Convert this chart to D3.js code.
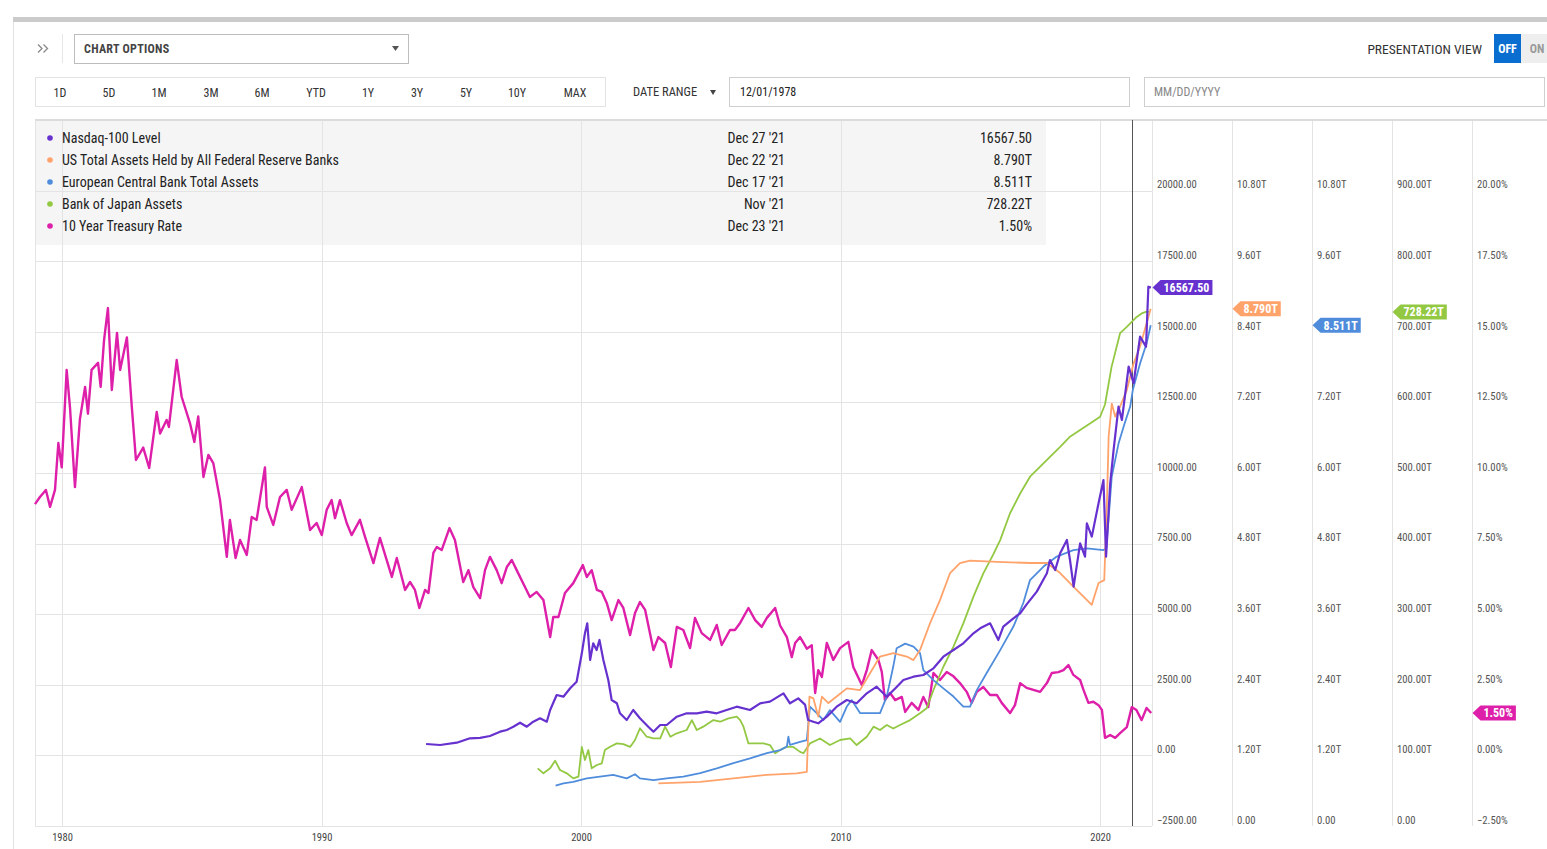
<!DOCTYPE html>
<html>
<head>
<meta charset="utf-8">
<script src="https://cdnjs.cloudflare.com/ajax/libs/d3/7.8.5/d3.min.js"></script>
<style>
  body { margin: 0; background: #fff; }
  svg text { font-family: 'Roboto Condensed', 'Liberation Sans Narrow', 'DejaVu Sans Condensed', Roboto, sans-serif; }
</style>
</head>
<body>
<svg id="chart"></svg>
<script>
// ---- data (decimal year, value) ----
var nasdaq = [
  [1994.03,404],[1994.57,368],[1995.21,450],[1995.72,606],[1996.11,620],[1996.49,687],[1996.88,840],
  [1997.14,900],[1997.39,1016],[1997.65,1158],[1997.91,1016],[1998.16,1193],[1998.42,1314],[1998.68,1193],
  [1998.81,1608],[1999.06,2139],[1999.32,2079],[1999.58,2376],[1999.83,2610],[2000.03,3615],[2000.15,4324],
  [2000.24,4678],[2000.35,3378],[2000.47,3970],[2000.6,3732],[2000.71,4087],[2000.86,3378],[2001.05,2670],
  [2001.18,1962],[2001.38,1845],[2001.5,1490],[2001.76,1254],[2002.01,1608],[2002.27,1314],[2002.59,1016],
  [2002.79,840],[2003.05,1076],[2003.3,1076],[2003.69,1370],[2004.07,1490],[2004.46,1490],[2004.84,1548],
  [2005.23,1490],[2005.61,1608],[2006.0,1725],[2006.51,1608],[2006.9,1845],[2007.28,1902],[2007.8,2198],
  [2008.05,1845],[2008.37,2021],[2008.63,1800],[2008.75,1254],[2008.95,1193],[2009.14,1136],[2009.47,1370],
  [2009.85,1725],[2010.24,1962],[2010.62,1845],[2011.01,2198],[2011.39,2433],[2011.78,2079],[2012.17,2433],
  [2012.42,2670],[2012.81,2787],[2013.19,2847],[2013.58,3084],[2013.96,3495],[2014.35,3732],[2014.73,3970],
  [2015.12,4324],[2015.38,4500],[2015.76,4678],[2016.08,4087],[2016.27,4558],[2016.66,4855],[2016.92,5032],
  [2017.17,5350],[2017.56,5800],[2017.95,6447],[2018.07,6919],[2018.27,6565],[2018.46,7157],[2018.72,7628],
  [2018.84,6919],[2018.98,5974],[2019.23,7511],[2019.42,7037],[2019.49,8219],[2019.68,7747],[2019.94,8927],
  [2020.13,9752],[2020.23,7037],[2020.39,9633],[2020.52,10814],[2020.71,12348],[2020.84,11877],[2021.1,13765],
  [2021.29,13176],[2021.54,14827],[2021.77,14473],[2021.86,16597],[2021.96,16567.5]
];

var fedAssets = [
  [2002.98,0.726],[2004.59,0.75],[2005.87,0.81],[2007.16,0.87],[2008.31,0.896],[2008.7,0.92],[2008.8,2.2],
  [2008.95,2.17],[2009.14,1.86],[2009.28,2.2],[2009.53,2.09],[2009.85,2.2],[2010.24,2.34],[2010.75,2.31],
  [2011.14,2.6],[2011.52,2.88],[2012.03,2.94],[2012.55,2.88],[2012.81,2.82],[2013.06,2.99],[2013.45,3.45],
  [2013.83,3.84],[2014.22,4.3],[2014.6,4.47],[2014.99,4.51],[2016.02,4.49],[2017.3,4.47],[2017.95,4.47],
  [2018.46,4.3],[2018.97,4.07],[2019.68,3.76],[2019.94,4.13],[2020.16,4.18],[2020.26,5.43],[2020.33,6.62],
  [2020.45,7.18],[2020.58,6.96],[2020.77,7.13],[2021.03,7.41],[2021.29,7.86],[2021.54,8.15],[2021.79,8.54],
  [2021.95,8.79]
];

var ecbAssets = [
  [1999.02,0.685],[1999.32,0.726],[1999.7,0.75],[2000.22,0.81],[2000.73,0.84],[2001.24,0.87],[2001.76,0.81],
  [2002.08,0.88],[2002.27,0.81],[2002.79,0.78],[2003.3,0.81],[2003.94,0.84],[2004.59,0.9],[2005.23,0.98],
  [2005.87,1.07],[2006.51,1.15],[2007.16,1.24],[2007.67,1.29],[2007.93,1.35],[2007.99,1.52],[2008.05,1.38],
  [2008.44,1.43],[2008.7,1.46],[2008.82,2.03],[2009.08,1.92],[2009.34,1.8],[2009.59,1.97],[2009.98,1.77],
  [2010.24,2.03],[2010.43,2.14],[2010.75,1.92],[2011.14,1.92],[2011.52,1.92],[2011.78,2.2],[2012.03,2.71],
  [2012.16,3.02],[2012.49,3.1],[2012.81,3.05],[2013.06,2.94],[2013.19,2.65],[2013.58,2.48],[2013.96,2.34],
  [2014.35,2.2],[2014.73,2.03],[2014.99,2.03],[2015.25,2.31],[2015.63,2.6],[2016.15,2.99],[2016.66,3.39],
  [2017.04,3.79],[2017.3,4.18],[2017.82,4.41],[2018.33,4.58],[2018.97,4.69],[2019.49,4.72],[2020.13,4.69],
  [2020.24,4.72],[2020.45,5.94],[2020.71,6.5],[2020.95,6.85],[2021.16,7.13],[2021.26,7.41],[2021.54,7.86],
  [2021.79,8.2],[2021.95,8.511]
];

var bojAssets = [
  [1998.33,81.7],[1998.55,74.6],[1998.81,81.7],[1999.0,92.5],[1999.19,79.3],[1999.45,74.6],[1999.7,67.5],
  [1999.9,70],[2000.03,112],[2000.15,93.5],[2000.28,107.6],[2000.41,81.7],[2000.61,86.4],[2000.8,88.8],
  [2000.92,107.6],[2001.12,112.3],[2001.38,117],[2001.63,116],[2001.89,112],[2002.08,121.8],[2002.27,138.4],
  [2002.53,126.5],[2002.79,124.1],[2003.05,124],[2003.24,140.7],[2003.44,126.5],[2003.69,131.3],[2004.07,136],
  [2004.27,150],[2004.46,136],[2004.71,140.7],[2005.1,150],[2005.36,147.7],[2005.68,152.5],[2006.0,154.8],
  [2006.13,150],[2006.26,140.7],[2006.45,117],[2006.77,117],[2007.03,117],[2007.28,114.7],[2007.48,103],
  [2007.67,107.6],[2007.93,112],[2008.18,112],[2008.44,105],[2008.57,103],[2008.82,117],[2009.21,124],
  [2009.59,114.7],[2009.98,121.8],[2010.37,124],[2010.62,114.7],[2011.01,126.5],[2011.27,140.7],[2011.52,136],
  [2011.78,143],[2012.03,138],[2012.29,143],[2012.68,150],[2013.06,159.6],[2013.32,166.7],[2013.58,192.6],
  [2013.96,225.6],[2014.35,254],[2014.73,287],[2015.12,324.8],[2015.5,357.9],[2015.89,385],[2016.15,405],
  [2016.53,443],[2016.92,471],[2017.3,494.8],[2017.69,509],[2018.07,523],[2018.46,537],[2018.84,551.4],
  [2019.23,561],[2019.61,570],[2020.0,579.7],[2020.19,597],[2020.44,650],[2020.77,698],[2021.03,707],
  [2021.41,721],[2021.6,726],[2021.79,728.5],[2021.88,728.22]
];

var treasury10y = [
  [1978.96,8.9],[1979.15,9.15],[1979.38,9.4],[1979.54,8.8],[1979.73,9.4],[1979.86,11.06],[1979.99,10.2],
  [1980.18,13.65],[1980.31,12.3],[1980.5,9.5],[1980.69,11.9],[1980.89,13.05],[1981.0,12.1],[1981.14,13.65],
  [1981.39,13.9],[1981.49,13.05],[1981.62,14.7],[1981.77,15.84],[1981.92,12.94],[1982.12,14.96],[1982.24,13.65],
  [1982.5,14.8],[1982.69,12.34],[1982.85,10.46],[1983.13,10.9],[1983.36,10.18],[1983.65,12.16],[1983.78,11.4],
  [1984.03,11.88],[1984.12,11.63],[1984.42,14.0],[1984.61,12.7],[1984.93,11.77],[1985.1,11.1],[1985.25,12.0],
  [1985.45,9.86],[1985.64,10.64],[1985.83,10.35],[1986.09,9.04],[1986.35,7.03],[1986.47,8.34],[1986.69,6.99],
  [1986.86,7.63],[1987.12,7.1],[1987.31,8.44],[1987.5,8.34],[1987.82,10.2],[1987.89,8.8],[1988.14,8.16],
  [1988.4,9.15],[1988.66,9.4],[1988.85,8.7],[1989.24,9.5],[1989.56,7.98],[1989.81,8.23],[1990.01,7.8],
  [1990.2,8.7],[1990.39,9.04],[1990.52,8.4],[1990.71,9.04],[1990.97,8.23],[1991.16,7.8],[1991.48,8.34],
  [1991.68,7.73],[1992.0,6.81],[1992.25,7.7],[1992.71,6.32],[1992.9,6.99],[1993.22,5.86],[1993.41,6.14],
  [1993.6,5.86],[1993.77,5.22],[1993.99,5.86],[1994.12,5.75],[1994.31,7.17],[1994.44,7.38],[1994.63,7.27],
  [1994.93,8.05],[1995.14,7.63],[1995.46,6.14],[1995.66,6.56],[1995.85,5.96],[1996.11,5.57],[1996.3,6.56],
  [1996.49,7.03],[1996.75,6.56],[1996.94,6.1],[1997.14,6.67],[1997.33,6.92],[1997.52,6.56],[1997.84,5.96],
  [1998.03,5.61],[1998.29,5.79],[1998.55,5.5],[1998.81,4.19],[1998.93,4.9],[1999.13,4.9],[1999.38,5.75],
  [1999.7,6.1],[2000.07,6.74],[2000.22,6.32],[2000.41,6.56],[2000.61,5.86],[2000.8,5.79],[2000.99,5.4],
  [2001.18,4.79],[2001.44,5.5],[2001.63,5.22],[2001.89,4.26],[2002.08,5.04],[2002.27,5.43],[2002.47,5.15],
  [2002.79,3.73],[2002.98,4.19],[2003.24,3.98],[2003.46,3.13],[2003.69,4.55],[2003.94,4.44],[2004.2,3.8],
  [2004.39,4.87],[2004.65,4.33],[2004.97,4.09],[2005.23,4.62],[2005.42,3.91],[2005.74,4.44],[2005.93,4.44],
  [2006.13,4.69],[2006.45,5.22],[2006.71,4.79],[2006.96,4.55],[2007.16,4.87],[2007.48,5.22],[2007.67,4.6],
  [2007.93,4.19],[2008.12,3.48],[2008.25,3.98],[2008.44,4.19],[2008.7,3.78],[2008.89,3.9],[2009.02,2.21],
  [2009.14,3.02],[2009.28,2.78],[2009.47,3.98],[2009.72,3.38],[2009.98,3.8],[2010.3,4.02],[2010.49,3.13],
  [2010.82,2.49],[2011.01,3.02],[2011.2,3.73],[2011.46,3.38],[2011.59,2.95],[2011.71,1.96],[2011.91,2.21],
  [2012.1,1.96],[2012.36,2.07],[2012.49,1.54],[2012.74,1.86],[2013.0,1.61],[2013.19,2.07],[2013.38,1.71],
  [2013.58,2.92],[2013.83,2.67],[2014.09,2.95],[2014.35,2.8],[2014.6,2.56],[2014.86,2.25],[2015.05,1.86],
  [2015.25,2.25],[2015.5,2.42],[2015.76,2.14],[2016.02,2.14],[2016.21,1.86],[2016.53,1.5],[2016.72,1.78],
  [2016.92,2.56],[2017.17,2.39],[2017.43,2.32],[2017.69,2.25],[2017.95,2.56],[2018.14,2.92],[2018.39,2.95],
  [2018.59,3.02],[2018.78,3.2],[2018.97,2.85],[2019.23,2.67],[2019.36,2.32],[2019.55,1.86],[2019.74,1.9],
  [2019.94,1.78],[2020.07,1.61],[2020.19,0.62],[2020.39,0.72],[2020.58,0.62],[2020.77,0.79],[2021.03,1.0],
  [2021.22,1.71],[2021.4,1.61],[2021.6,1.25],[2021.79,1.68],[2021.97,1.5]
];

var seriesNames = ["Nasdaq-100 Level", "US Total Assets Held by All Federal Reserve Banks",
                   "European Central Bank Total Assets", "Bank of Japan Assets", "10 Year Treasury Rate"];
var lastDates = ["Dec 27 '21", "Dec 22 '21", "Dec 17 '21", "Nov '21", "Dec 23 '21"];
var lastValues = [16567.50, 8.790, 8.511, 728.22, 1.50];
var lastLabels = ["16567.50", "8.790T", "8.511T", "728.22T", "1.50%"];

var yearTicks = [1980, 1990, 2000, 2010, 2020];
var nasdaqTicks = [-2500, 0, 2500, 5000, 7500, 10000, 12500, 15000, 17500, 20000];
var trillionTicks = [0, 1.2, 2.4, 3.6, 4.8, 6.0, 7.2, 8.4, 9.6, 10.8];
var bojTicks = [0, 100, 200, 300, 400, 500, 600, 700, 800, 900];
var rateTicks = [-2.5, 0, 2.5, 5, 7.5, 10, 12.5, 15, 17.5, 20];
var rangeButtons = ["1D", "5D", "1M", "3M", "6M", "YTD", "1Y", "3Y", "5Y", "10Y", "MAX"];
var cursorYear = 2021.23;

var colors = ["#6631cf", "#ffa36b", "#4f8ddc", "#93c843", "#dd1fa9"];

// ---- layout ----
var W = 1547, H = 849;
var plotL = 35, plotR = 1152, plotT = 120, plotB = 826;
var colW = 80;
var btnCenters = [60, 109, 159, 211, 262, 316, 368, 417, 466, 517, 575];
var FONT = "'Roboto Condensed', 'Liberation Sans Narrow', Roboto, sans-serif";

var svg = d3.select("#chart").attr("width", W).attr("height", H);

// panel chrome
svg.append("rect").attr("x", 13).attr("y", 17).attr("width", W - 13).attr("height", 5).attr("fill", "#cbcbcb");
svg.append("line").attr("x1", 13.5).attr("x2", 13.5).attr("y1", 22).attr("y2", H).attr("stroke", "#e2e2e2");

svg.append("path").attr("d", "M38,44.5 l4,4 l-4,4 M43.5,44.5 l4,4 l-4,4")
  .attr("fill", "none").attr("stroke", "#888").attr("stroke-width", 1.3);
svg.append("line").attr("x1", 62.5).attr("x2", 62.5).attr("y1", 34).attr("y2", 63).attr("stroke", "#e6e6e6");

svg.append("rect").attr("x", 74.5).attr("y", 34.5).attr("width", 334).attr("height", 29)
  .attr("fill", "#fff").attr("stroke", "#bdbdbd");
svg.append("text").attr("x", 84).attr("y", 49).attr("dy", "0.35em").text("CHART OPTIONS")
  .attr("font-size", 12).attr("font-weight", "bold").attr("fill", "#444").attr("letter-spacing", 0.3);
svg.append("path").attr("d", "M392,46 L399,46 L395.5,51 Z").attr("fill", "#555");

svg.append("rect").attr("x", 35.5).attr("y", 77.5).attr("width", 570).attr("height", 29)
  .attr("fill", "#fff").attr("stroke", "#e3e3e3");
svg.append("g").selectAll("text").data(rangeButtons).join("text")
  .attr("x", function(d, i) { return btnCenters[i]; }).attr("y", 93).attr("dy", "0.35em")
  .attr("text-anchor", "middle").attr("font-size", 12).attr("fill", "#333").text(function(d) { return d; });

svg.append("text").attr("x", 633).attr("y", 92).attr("dy", "0.35em").text("DATE RANGE")
  .attr("font-size", 12.5).attr("fill", "#333");
svg.append("path").attr("d", "M710,90 L716,90 L713,95 Z").attr("fill", "#444");
svg.append("rect").attr("x", 729.5).attr("y", 77.5).attr("width", 400).attr("height", 29)
  .attr("fill", "#fff").attr("stroke", "#cfcfcf");
svg.append("text").attr("x", 740).attr("y", 92).attr("dy", "0.35em").text("12/01/1978")
  .attr("font-size", 12).attr("fill", "#222");
svg.append("rect").attr("x", 1144.5).attr("y", 77.5).attr("width", 400).attr("height", 29)
  .attr("fill", "#fff").attr("stroke", "#cfcfcf");
svg.append("text").attr("x", 1154).attr("y", 92).attr("dy", "0.35em").text("MM/DD/YYYY")
  .attr("font-size", 12).attr("fill", "#888");

svg.append("text").attr("x", 1482).attr("y", 49).attr("dy", "0.35em").attr("text-anchor", "end")
  .text("PRESENTATION VIEW").attr("font-size", 13.5).attr("fill", "#333");
svg.append("rect").attr("x", 1494).attr("y", 34).attr("width", 27).attr("height", 29).attr("fill", "#0a6ed1");
svg.append("text").attr("x", 1507.5).attr("y", 49).attr("dy", "0.35em").attr("text-anchor", "middle")
  .text("OFF").attr("font-size", 12).attr("font-weight", "bold").attr("fill", "#fff");
svg.append("rect").attr("x", 1521).attr("y", 34).attr("width", 26).attr("height", 29).attr("fill", "#eeeeee");
svg.append("text").attr("x", 1537).attr("y", 49).attr("dy", "0.35em").attr("text-anchor", "middle")
  .text("ON").attr("font-size", 12).attr("font-weight", "bold").attr("fill", "#9a9a9a");

// ---- scales ----
var x = d3.scaleLinear().domain([1978.96, 2022.0]).range([plotL, plotR]);
var yNasdaq = d3.scaleLinear().domain([-2500, 22500]).range([plotB, plotT]);
var yFed = d3.scaleLinear().domain([0, 12]).range([plotB, plotT]);
var yEcb = d3.scaleLinear().domain([0, 12]).range([plotB, plotT]);
var yBoj = d3.scaleLinear().domain([0, 1000]).range([plotB, plotT]);
var yRate = d3.scaleLinear().domain([-2.5, 22.5]).range([plotB, plotT]);
var yScales = [yNasdaq, yFed, yEcb, yBoj, yRate];

// legend background (under the grid, like the original's translucent box)
svg.append("rect").attr("x", plotL).attr("y", plotT + 1).attr("width", 1011).attr("height", 124)
  .attr("fill", "#f5f5f5");

// grid
var grid = svg.append("g").attr("stroke", "#e4e4e4").attr("stroke-width", 1);
grid.selectAll(".h").data(nasdaqTicks).join("line")
  .attr("x1", plotL).attr("x2", plotR)
  .attr("y1", function(d) { return Math.round(yNasdaq(d)) + 0.5; })
  .attr("y2", function(d) { return Math.round(yNasdaq(d)) + 0.5; });
grid.selectAll(".v").data(yearTicks).join("line")
  .attr("x1", function(d) { return Math.round(x(d)) + 0.5; })
  .attr("x2", function(d) { return Math.round(x(d)) + 0.5; })
  .attr("y1", plotT).attr("y2", plotB);
grid.append("line").attr("x1", plotL + 0.5).attr("x2", plotL + 0.5).attr("y1", plotT).attr("y2", plotB);
d3.range(0, 5).forEach(function(i) {
  grid.append("line").attr("x1", plotR + i * colW + 0.5).attr("x2", plotR + i * colW + 0.5)
    .attr("y1", plotT).attr("y2", plotB);
});
svg.append("line").attr("x1", plotL).attr("x2", W).attr("y1", plotT).attr("y2", plotT)
  .attr("stroke", "#dcdcdc").attr("stroke-width", 2);

// bottom year axis
var xAxis = svg.append("g").attr("transform", "translate(0," + plotB + ")")
  .call(d3.axisBottom(x).tickValues(yearTicks).tickFormat(d3.format("d")).tickSize(0).tickPadding(8));
xAxis.select(".domain").remove();
xAxis.selectAll("text").attr("font-size", 10.5).attr("fill", "#444").style("font-family", FONT);

// right value axes
var f2 = d3.format(".2f");
var axisFormats = [
  function(d) { return f2(d); },
  function(d) { return d === 0 ? "0.00" : f2(d) + "T"; },
  function(d) { return d === 0 ? "0.00" : f2(d) + "T"; },
  function(d) { return d === 0 ? "0.00" : f2(d) + "T"; },
  function(d) { return f2(d) + "%"; }
];
var axisTicks = [nasdaqTicks, trillionTicks, trillionTicks, bojTicks, rateTicks];
yScales.forEach(function(s, i) {
  var g = svg.append("g").attr("transform", "translate(" + (plotR + i * colW) + ",0)")
    .call(d3.axisRight(s).tickValues(axisTicks[i]).tickFormat(axisFormats[i]).tickSize(0).tickPadding(5));
  g.select(".domain").remove();
  g.selectAll("text").attr("font-size", 10.7).attr("fill", "#555").attr("dy", "-0.25em")
    .style("font-family", FONT);
});

// cursor line
svg.append("line").attr("x1", Math.round(x(cursorYear)) + 0.5).attr("x2", Math.round(x(cursorYear)) + 0.5)
  .attr("y1", plotT).attr("y2", plotB).attr("stroke", "#555").attr("stroke-width", 1);

// ---- series ----
var seriesData = [nasdaq, fedAssets, ecbAssets, bojAssets, treasury10y];
var widths = [2.2, 1.8, 1.8, 1.8, 2.4];
var drawOrder = [4, 3, 2, 1, 0];
var lines = svg.append("g").attr("fill", "none").attr("stroke-linejoin", "round");
drawOrder.forEach(function(i) {
  var ys = yScales[i];
  var line = d3.line().x(function(d) { return x(d[0]); }).y(function(d) { return ys(d[1]); });
  lines.append("path").datum(seriesData[i]).attr("d", line)
    .attr("stroke", colors[i]).attr("stroke-width", widths[i]);
});

// ---- legend text ----
var legend = svg.append("g");
seriesNames.forEach(function(name, i) {
  var yy = 138 + i * 22;
  legend.append("circle").attr("cx", 50).attr("cy", yy).attr("r", 2.8).attr("fill", colors[i]);
  legend.append("text").attr("x", 62).attr("y", yy).attr("dy", "0.35em").text(name)
    .attr("font-size", 14).attr("fill", "#222");
  legend.append("text").attr("x", 785).attr("y", yy).attr("dy", "0.35em").attr("text-anchor", "end")
    .text(lastDates[i]).attr("font-size", 14).attr("fill", "#222");
  legend.append("text").attr("x", 1032).attr("y", yy).attr("dy", "0.35em").attr("text-anchor", "end")
    .text(lastLabels[i]).attr("font-size", 14).attr("fill", "#222");
});

// ---- last value tags ----
lastValues.forEach(function(v, i) {
  var g = svg.append("g").attr("transform", "translate(" + (plotR + i * colW + 0.5) + "," + yScales[i](v) + ")");
  var path = g.append("path").attr("fill", colors[i]);
  var t = g.append("text").attr("x", 11).attr("dy", "0.36em").text(lastLabels[i])
    .attr("font-size", 12).attr("font-weight", "bold").attr("fill", "#fff");
  var w = t.node().getComputedTextLength() + 6;
  path.attr("d", "M0,0 L8,-7.5 L" + (8 + w) + ",-7.5 L" + (8 + w) + ",7.5 L8,7.5 Z");
});
</script>
</body>
</html>
